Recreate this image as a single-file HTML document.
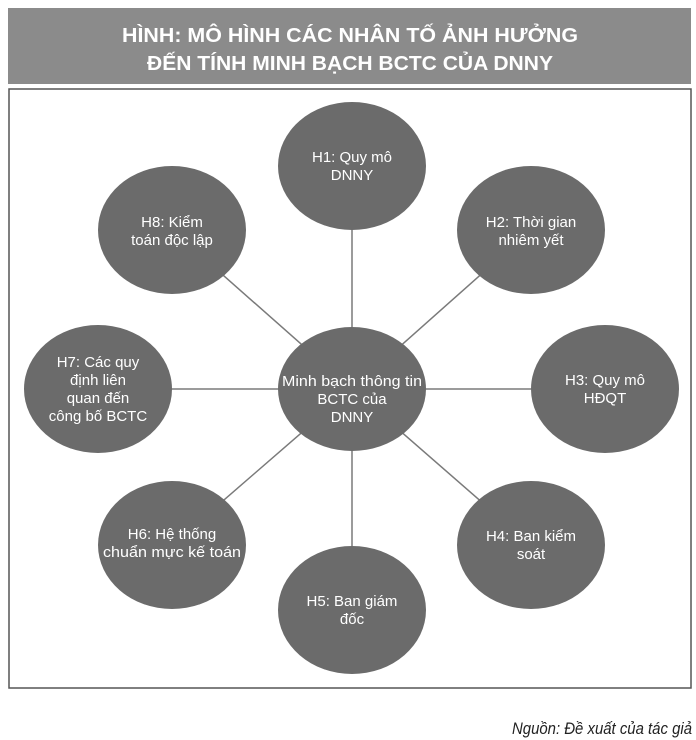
<!DOCTYPE html>
<html><head><meta charset="utf-8"><style>
html,body{margin:0;padding:0;background:#fff;}
svg{display:block;}
text{font-family:"Liberation Sans","DejaVu Sans",sans-serif;}
</style></head><body>
<svg width="696" height="740" viewBox="0 0 696 740" xmlns="http://www.w3.org/2000/svg">
<rect x="8" y="8" width="683" height="76" fill="#8b8b8b"/>
<text x="350" y="42" font-size="20" font-weight="bold" fill="#fff" text-anchor="middle" textLength="456" lengthAdjust="spacingAndGlyphs">HÌNH:  MÔ HÌNH CÁC NHÂN TỐ ẢNH HƯỞNG</text>
<text x="350" y="70" font-size="20" font-weight="bold" fill="#fff" text-anchor="middle" textLength="406" lengthAdjust="spacingAndGlyphs">ĐẾN TÍNH MINH BẠCH BCTC CỦA DNNY</text>
<rect x="9" y="89" width="682" height="599" fill="none" stroke="#555" stroke-width="1.5"/>
<g stroke="#7a7a7a" stroke-width="1.5">
<line x1="352" y1="389" x2="352" y2="166"/>
<line x1="352" y1="389" x2="172" y2="230"/>
<line x1="352" y1="389" x2="531" y2="230"/>
<line x1="352" y1="389" x2="98" y2="389"/>
<line x1="352" y1="389" x2="605" y2="389"/>
<line x1="352" y1="389" x2="172" y2="545"/>
<line x1="352" y1="389" x2="531" y2="545"/>
<line x1="352" y1="389" x2="352" y2="610"/>
</g>
<g fill="#6b6b6b">
<ellipse cx="352" cy="166" rx="74" ry="64"/>
<ellipse cx="172" cy="230" rx="74" ry="64"/>
<ellipse cx="531" cy="230" rx="74" ry="64"/>
<ellipse cx="98" cy="389" rx="74" ry="64"/>
<ellipse cx="352" cy="389" rx="74" ry="62"/>
<ellipse cx="605" cy="389" rx="74" ry="64"/>
<ellipse cx="172" cy="545" rx="74" ry="64"/>
<ellipse cx="531" cy="545" rx="74" ry="64"/>
<ellipse cx="352" cy="610" rx="74" ry="64"/>
</g>
<g fill="#fff" font-size="15" text-anchor="middle">
<text x="352" y="162">H1: Quy mô</text><text x="352" y="180">DNNY</text>
<text x="172" y="227">H8: Kiểm</text><text x="172" y="245">toán độc lập</text>
<text x="531" y="227">H2: Thời gian</text><text x="531" y="245">nhiêm yết</text>
<text x="98" y="367">H7: Các quy</text><text x="98" y="385">định liên</text><text x="98" y="403">quan đến</text><text x="98" y="421">công bố BCTC</text>
<text x="352" y="386" textLength="140" lengthAdjust="spacingAndGlyphs">Minh bạch thông tin</text><text x="352" y="404">BCTC của</text><text x="352" y="422">DNNY</text>
<text x="605" y="385">H3: Quy mô</text><text x="605" y="403">HĐQT</text>
<text x="172" y="539">H6: Hệ thống</text><text x="172" y="557" textLength="138" lengthAdjust="spacingAndGlyphs">chuẩn mực kế toán</text>
<text x="531" y="541">H4: Ban kiểm</text><text x="531" y="559">soát</text>
<text x="352" y="606">H5: Ban giám</text><text x="352" y="624">đốc</text>
</g>
<text x="692" y="734" font-size="17" font-style="italic" fill="#222" text-anchor="end" textLength="180" lengthAdjust="spacingAndGlyphs">Nguồn: Đề xuất của tác giả</text>
</svg>
</body></html>
